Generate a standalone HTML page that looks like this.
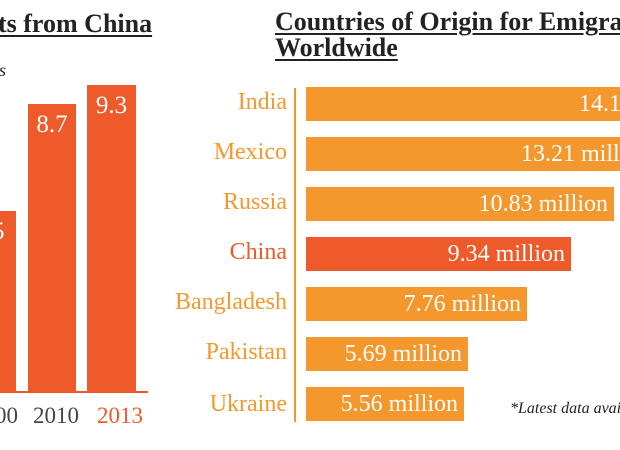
<!DOCTYPE html>
<html><head><style>
html,body{margin:0;width:620px;height:450px;overflow:hidden}
body{background:#fff;position:relative;font-family:"Liberation Serif",serif}
div{position:absolute;white-space:nowrap}
.t{font-weight:bold;font-size:26px;color:#222;text-decoration:underline;text-decoration-thickness:2px;text-underline-offset:3px}
.vb{background:#EF5A2A}
.v{color:#fff;font-size:25px;text-align:center}
.y{font-size:23px;color:#444;top:403px}
.lab{right:333px;font-size:24px;color:#F4982E;text-align:right;line-height:34px}
.b{left:306px;height:34px;background:#F4982E;color:#fff;font-size:24px;text-align:right;line-height:34px;box-sizing:border-box;padding-right:6px;overflow:hidden}
</style></head><body>
<div class="t" style="left:-2px;top:9px">ts from China</div>
<div style="left:-10px;top:60px;font-style:italic;font-size:18px;color:#222">ns</div>
<div class="vb" style="left:0;top:211px;width:16px;height:181px"></div>
<div class="v" style="left:-8px;top:218px">5</div>
<div class="vb" style="left:28px;top:104px;width:48px;height:288px"></div>
<div class="v" style="left:28px;top:111px;width:48px">8.7</div>
<div class="vb" style="left:87px;top:85px;width:49px;height:307px"></div>
<div class="v" style="left:87px;top:92px;width:49px">9.3</div>
<div style="left:0;top:391px;width:148px;height:2px;background:#EF5A2A"></div>
<div class="y" style="left:-5px">00</div>
<div class="y" style="left:33px">2010</div>
<div class="y" style="left:97px;color:#EF5A2A">2013</div>

<div class="t" style="left:275px;top:9px;line-height:26px">Countries of Origin for Emigrants<br>Worldwide</div>
<div style="left:294px;top:88px;width:2px;height:334px;background:#F4982E"></div>

<div class="lab" style="top:85px">India</div>
<div class="lab" style="top:135px">Mexico</div>
<div class="lab" style="top:185px">Russia</div>
<div class="lab" style="top:235px;color:#EF5A2A">China</div>
<div class="lab" style="top:285px">Bangladesh</div>
<div class="lab" style="top:335px">Pakistan</div>
<div class="lab" style="top:387px">Ukraine</div>

<div class="b" style="top:87px;width:314px;text-align:left;padding-left:273px">14.17 million</div>
<div class="b" style="top:137px;width:314px;text-align:left;padding-left:215px">13.21 million</div>
<div class="b" style="top:187px;width:308px">10.83 million</div>
<div class="b" style="top:237px;width:265px;background:#EF5A2A">9.34 million</div>
<div class="b" style="top:287px;width:221px">7.76 million</div>
<div class="b" style="top:337px;width:162px">5.69 million</div>
<div class="b" style="top:387px;width:158px">5.56 million</div>
<div style="left:510px;top:400px;font-style:italic;font-size:16px;color:#222">*Latest data available</div>
</body></html>
